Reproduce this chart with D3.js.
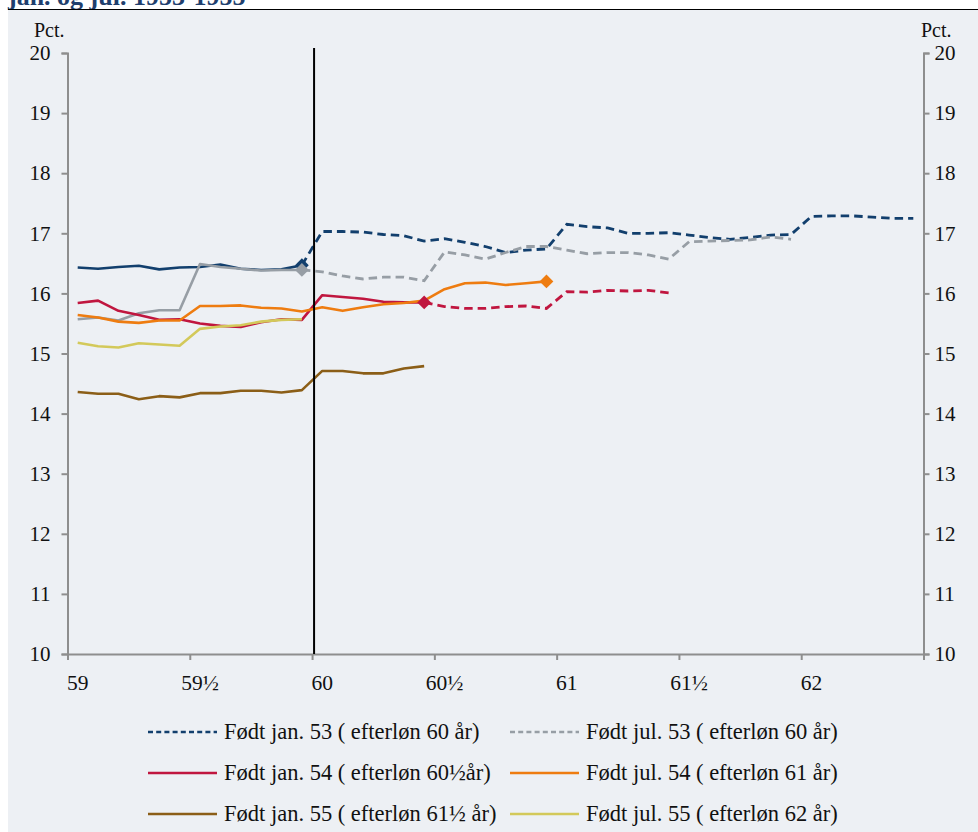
<!DOCTYPE html>
<html><head><meta charset="utf-8">
<script src="https://cdn.jsdelivr.net/npm/d3@7"></script>
<style>
html,body{margin:0;padding:0;background:#fff;}
svg{display:block;}
text{font-family:"Liberation Serif","DejaVu Serif",serif;}
</style></head>
<body>
<svg id="c" width="978" height="832"></svg>
<script>
// ---------- data ----------
const monthCount = 42; // months from age 59 to 62½
const tickLabels = ["59","59½","60","60½","61","61½","62"];
const tickStep = 6;

const jan53 = [16.43,16.41,16.44,16.46,16.40,16.43,16.44,16.48,16.41,16.39,16.40,16.47,
  17.03,17.03,17.02,16.98,16.96,16.87,16.91,16.85,16.78,16.68,16.72,16.74,
  17.15,17.11,17.09,17.00,17.00,17.01,16.97,16.93,16.90,16.93,16.97,16.98,
  17.28,17.29,17.29,17.27,17.25,17.25];
const jul53 = [15.57,15.60,15.55,15.67,15.72,15.72,16.49,16.44,16.41,16.38,16.39,16.39,
  16.36,16.29,16.24,16.27,16.27,16.21,16.69,16.64,16.57,16.68,16.78,16.78,
  16.72,16.66,16.68,16.68,16.64,16.57,16.86,16.87,16.88,16.89,16.94,16.90];
const jan54 = [15.84,15.88,15.71,15.64,15.56,15.57,15.50,15.46,15.44,15.52,15.57,15.56,
  15.97,15.94,15.91,15.86,15.85,15.85,15.78,15.75,15.75,15.78,15.79,15.75,
  16.03,16.02,16.05,16.04,16.05,16.01];
const jul54 = [15.64,15.60,15.53,15.51,15.55,15.55,15.79,15.79,15.80,15.76,15.75,15.70,
  15.77,15.71,15.77,15.82,15.84,15.88,16.07,16.17,16.18,16.14,16.17,16.20];
const jan55 = [14.36,14.33,14.33,14.24,14.29,14.27,14.34,14.34,14.38,14.38,14.35,14.39,
  14.71,14.71,14.67,14.67,14.75,14.79];
const jul55 = [15.18,15.12,15.10,15.17,15.15,15.13,15.41,15.45,15.47,15.53,15.56,15.57];

const seriesNames = ["Født jan. 53 ( efterløn 60 år)","Født jul. 53 ( efterløn 60 år)",
  "Født jan. 54 ( efterløn 60½år)","Født jul. 54 ( efterløn 61 år)",
  "Født jan. 55 ( efterløn 61½ år)","Født jul. 55 ( efterløn 62 år)"];
const seriesValues = [jan53, jul53, jan54, jul54, jan55, jul55];
const seriesColors = ["#123f6d","#979ea5","#c0163f","#ee7c10","#8b5e17","#d3c95a"];
const dashFrom = [11, 11, 17, null, null, null];     // index where dashed continuation starts
const markerAt = [11, 11, 17, 23, null, null];       // diamond marker index
const legendDashed = [true, true, false, false, false, false];

const yTicks = [10,11,12,13,14,15,16,17,18,19,20];
const title = "jan. og jul. 1953-1955";
const unitLabel = "Pct.";

// ---------- layout ----------
const svg = d3.select("#c");
const L = 67.5, R = 923.5, T = 53, B = 654;
const axisColor = "#8e8e8e";
const FS = 21;

svg.append("rect").attr("x",8).attr("y",10).attr("width",970).attr("height",822).attr("fill","#edf0f4");
svg.append("text").attr("x",8).attr("y",5).attr("font-size",26).attr("font-weight","bold")
  .attr("fill","#1f3f6e").text(title);
svg.append("line").attr("x1",8).attr("x2",978).attr("y1",9.5).attr("y2",9.5).attr("stroke","#000").attr("stroke-width",1.2);

const xEdge = d3.scaleLinear().domain([0, monthCount]).range([L, R]);
const x = i => xEdge(i + 0.5);
const y = d3.scaleLinear().domain([10, 20]).range([B, T]);

// left axis
const gl = svg.append("g").attr("transform",`translate(${L},0)`)
  .call(d3.axisLeft(y).tickValues(yTicks).tickSize(6).tickPadding(11).tickFormat(d3.format("d")));
// right axis
const gr = svg.append("g").attr("transform",`translate(${R},0)`)
  .call(d3.axisRight(y).tickValues(yTicks).tickSize(6).tickPadding(5).tickFormat(d3.format("d")));
// bottom axis (tick marks at category boundaries)
const gb = svg.append("g").attr("transform",`translate(0,${B})`)
  .call(d3.axisBottom(xEdge).tickValues(d3.range(0, monthCount + 1, tickStep)).tickSize(6).tickFormat(""));
[gl, gr, gb].forEach(g => {
  g.select(".domain").attr("stroke", axisColor).attr("stroke-width", 2);
  g.selectAll(".tick line").attr("stroke", axisColor).attr("stroke-width", 2);
  g.selectAll("text").attr("font-size", FS).attr("fill", "#111").attr("font-family","'Liberation Serif',serif");
});
// category labels
svg.append("g").selectAll("text").data(tickLabels).join("text")
  .attr("x", (d, i) => x(i * tickStep)).attr("y", B + 36)
  .attr("text-anchor", "middle").attr("font-size", 21.5).attr("fill", "#111").text(d => d);

svg.append("text").attr("x", 34).attr("y", 37).attr("font-size", 20).attr("fill","#111").text(unitLabel);
svg.append("text").attr("x", 921).attr("y", 37).attr("font-size", 20).attr("fill","#111").text(unitLabel);

// ---------- lines ----------
const line = d3.line().x(d => x(d.i)).y(d => y(d.v));
const plot = svg.append("g");
seriesValues.forEach((vals, s) => {
  const pts = vals.map((v, i) => ({i, v}));
  const split = dashFrom[s];
  const solid = split == null ? pts : pts.slice(0, split + 1);
  plot.append("path").attr("d", line(solid)).attr("fill", "none")
    .attr("stroke", seriesColors[s]).attr("stroke-width", 2.6).attr("stroke-linejoin","round");
  if (split != null) {
    plot.append("path").attr("d", line(pts.slice(split))).attr("fill", "none")
      .attr("stroke", seriesColors[s]).attr("stroke-width", 2.8).attr("stroke-dasharray", "8.5,5");
  }
});
// markers
const sq = d3.symbol().type(d3.symbolSquare).size(95);
seriesValues.forEach((vals, s) => {
  const m = markerAt[s];
  if (m == null) return;
  plot.append("path").attr("d", sq())
    .attr("transform", `translate(${x(m)},${y(vals[m])}) rotate(45)`)
    .attr("fill", seriesColors[s]);
});

// vertical reference line at age 60
svg.append("line").attr("x1", xEdge(12) + 2).attr("x2", xEdge(12) + 2)
  .attr("y1", 48).attr("y2", B).attr("stroke", "#000").attr("stroke-width", 2);

// ---------- legend ----------
const legX = [148, 510], legY = [732, 773, 814];
const leg = svg.append("g");
seriesNames.forEach((name, s) => {
  const cx = legX[s % 2], cy = legY[Math.floor(s / 2)];
  leg.append("line").attr("x1", cx).attr("x2", cx + 69).attr("y1", cy).attr("y2", cy)
    .attr("stroke", seriesColors[s]).attr("stroke-width", 2.6)
    .attr("stroke-dasharray", legendDashed[s] ? "5,3.2" : null);
  leg.append("text").attr("x", cx + 76).attr("y", cy + 7).attr("font-size", 22.5).attr("fill", "#111").text(name);
});
</script>
</body></html>
